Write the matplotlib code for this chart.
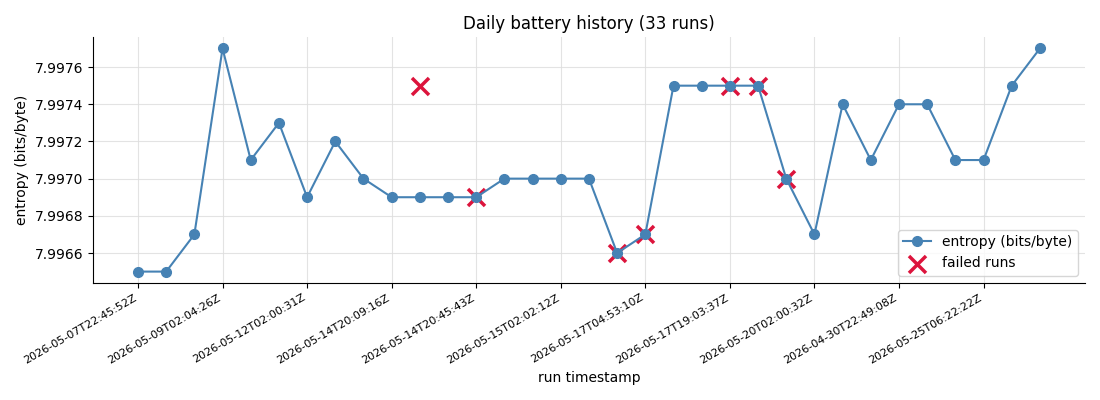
import matplotlib
matplotlib.use("Agg")
import matplotlib.pyplot as plt

run_index = list(range(33))
entropy = [7.9965, 7.9965, 7.9967, 7.9977, 7.9971, 7.9973, 7.9969, 7.9972, 7.9970,
           7.9969, 7.9969, 7.9969, 7.9969, 7.9970, 7.9970, 7.9970, 7.9970, 7.9966,
           7.9967, 7.9975, 7.9975, 7.9975, 7.9975, 7.9970, 7.9967, 7.9974, 7.9971,
           7.9974, 7.9974, 7.9971, 7.9971, 7.9975, 7.9977]
failed_index = [10, 12, 17, 18, 21, 22, 23]
failed_entropy = [7.9975, 7.9969, 7.9966, 7.9967, 7.9975, 7.9975, 7.9970]
tick_index = [0, 3, 6, 9, 12, 15, 18, 21, 24, 27, 30]
tick_labels = ["2026-05-07T22:45:52Z", "2026-05-09T02:04:26Z", "2026-05-12T02:00:31Z",
               "2026-05-14T20:09:16Z", "2026-05-14T20:45:43Z", "2026-05-15T02:02:12Z",
               "2026-05-17T04:53:10Z", "2026-05-17T19:03:37Z", "2026-05-20T02:00:32Z",
               "2026-04-30T22:49:08Z", "2026-05-25T06:22:22Z"]

fig, ax = plt.subplots(figsize=(11, 4), dpi=100)
ax.plot(run_index, entropy, marker="o", color="steelblue", linewidth=1.5,
        markersize=7, label="entropy (bits/byte)")
ax.scatter(failed_index, failed_entropy, marker="x", color="crimson", s=150,
           linewidths=2.5, label="failed runs")
ax.set_xticks(tick_index)
ax.set_xticklabels(tick_labels, rotation=30, ha="right", fontsize=8)
ax.ticklabel_format(axis="y", useOffset=False)
ax.set_title("Daily battery history (33 runs)")
ax.set_xlabel("run timestamp")
ax.set_ylabel("entropy (bits/byte)")
ax.grid(True, color="#dddddd", linewidth=0.8, alpha=0.8)
ax.spines["top"].set_visible(False)
ax.spines["right"].set_visible(False)
ax.legend(loc="lower right")
fig.tight_layout()
fig.savefig("out.png")
